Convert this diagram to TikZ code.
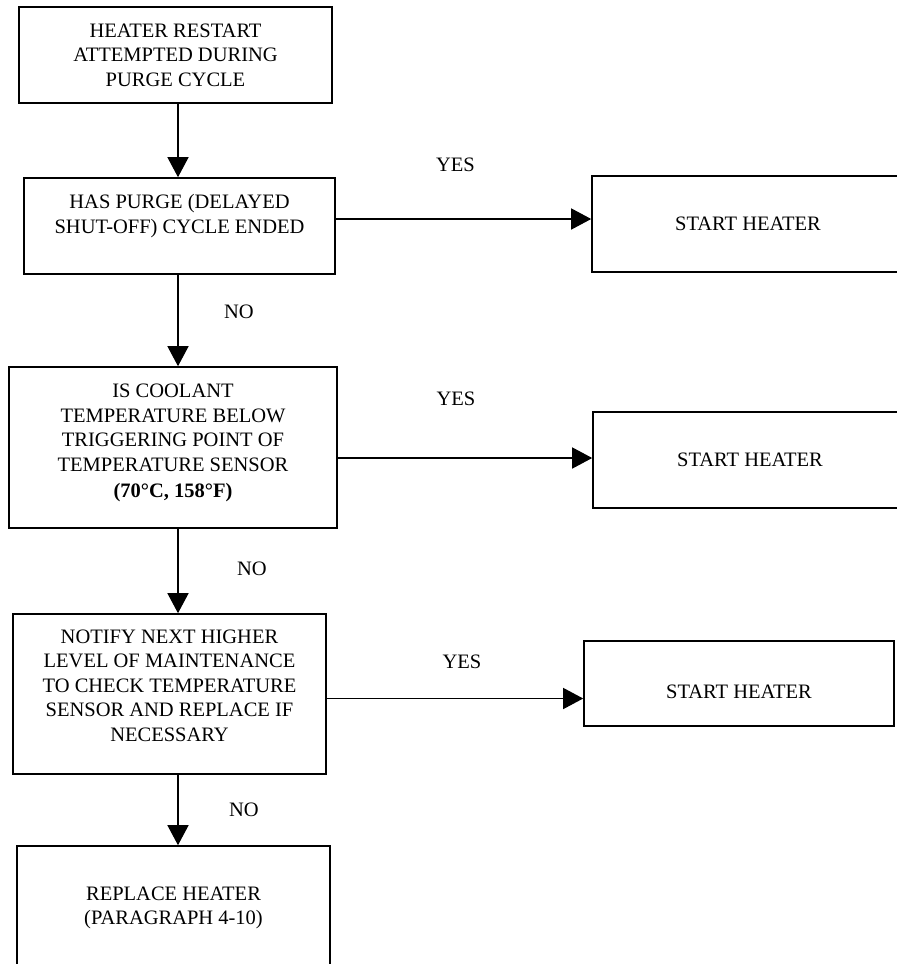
\documentclass[tikz,border=0pt]{standalone}
\usepackage{fontspec}
\setmainfont{Liberation Serif}
\usetikzlibrary{arrows.meta}

\begin{document}
\begin{tikzpicture}[x=1pt,y=-1pt,every node/.style={align=center,font=\fontsize{20.5}{24.5}\selectfont},
box/.style={draw,line width=1.6pt,inner sep=0pt},
arr/.style={line width=1.4pt,-{Triangle[length=20pt,width=21pt]}}
]
\useasboundingbox (0,0) rectangle (897,964);
\clip (0,0) rectangle (897,964);
\coordinate (spine) at (178,0);

\node[box,minimum width=313pt,minimum height=96pt] (restart) at (175.5,55) {HEATER RESTART\\ ATTEMPTED DURING\\ PURGE CYCLE};
\node[box,minimum width=311pt,minimum height=96pt] (purge) at (179.5,226) {HAS PURGE (DELAYED\\ SHUT-OFF) CYCLE ENDED\\ \mbox{}};
\node[box,minimum width=328pt,minimum height=161pt] (coolant) at (173,447.5) {IS COOLANT\\ TEMPERATURE BELOW\\ TRIGGERING POINT OF\\ TEMPERATURE SENSOR\\[1.5pt] \textbf{(70°C, 158°F)}\\[-10.5pt] \mbox{}};
\node[box,minimum width=313pt,minimum height=160pt] (notify) at (169.5,694) {NOTIFY NEXT HIGHER\\ LEVEL OF MAINTENANCE\\ TO CHECK TEMPERATURE\\ SENSOR AND REPLACE IF\\ NECESSARY\\[-7.5pt] \mbox{}};
\node[box,minimum width=313pt,minimum height=143.5pt] (replace) at (173.5,917.75) {REPLACE HEATER\\ (PARAGRAPH 4-10)\\ \mbox{}};

\node[box,minimum width=312pt,minimum height=96pt] (startA) at (748,224) {START HEATER};
\node[box,minimum width=314pt,minimum height=96pt] (startB) at (750,460) {START HEATER};
\node[box,minimum width=310pt,minimum height=85pt] (startC) at (739,683.5) {\mbox{}\\[6pt] START HEATER};

\node (yesA) at (455.5,165) {YES};
\node (yesB) at (456,399) {YES};
\node (yesC) at (462,662) {YES};
\node (noA) at (239,312) {NO};
\node (noB) at (252,569) {NO};
\node (noC) at (244,810) {NO};

\draw[arr] (restart.south -| spine) -- (purge.north -| spine);
\draw[arr] (purge.south -| spine) -- (coolant.north -| spine); % <- no
\draw[arr] (coolant.south -| spine) -- (notify.north -| spine); % <- no
\draw[arr] (notify.south -| spine) -- (replace.north -| spine); % <- no
\draw[arr] ([yshift=7pt]purge.east) -- ([yshift=7pt]purge.east -| startA.west); % <- yes
\draw[arr] ([yshift=-10.5pt]coolant.east) -- ([yshift=-10.5pt]coolant.east -| startB.west); % <- yes
\draw[arr] ([yshift=-4.5pt]notify.east) -- ([yshift=-4.5pt]notify.east -| startC.west); % <- yes
\end{tikzpicture}
\end{document}
